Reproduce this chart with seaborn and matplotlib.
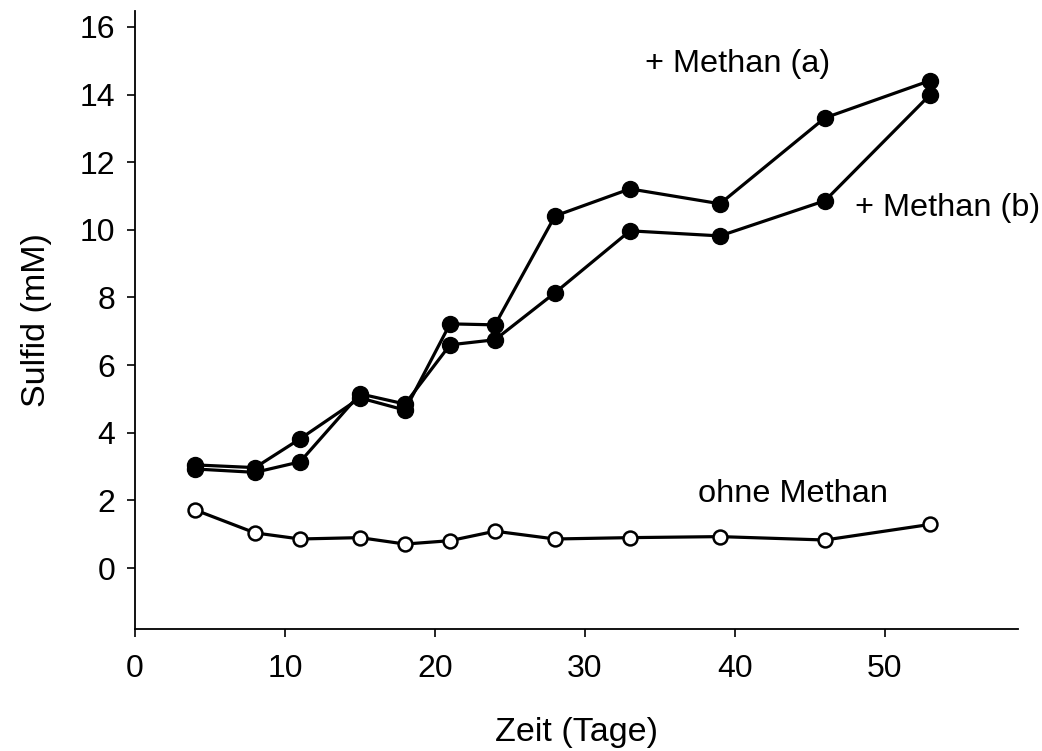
import matplotlib
matplotlib.use("Agg")
import matplotlib.pyplot as plt
import seaborn as sns
import pandas as pd

days = [4, 8, 11, 15, 18, 21, 24, 28, 33, 39, 46, 53]
methan_a = [3.05, 2.97, 3.82, 5.03, 4.67, 7.22, 7.19, 10.41, 11.21, 10.77, 13.31, 14.41]
methan_b = [2.93, 2.83, 3.14, 5.15, 4.85, 6.60, 6.75, 8.14, 9.97, 9.82, 10.86, 13.99]
ohne = [1.72, 1.04, 0.86, 0.90, 0.71, 0.81, 1.09, 0.86, 0.90, 0.93, 0.83, 1.29]

sns.set_theme(style="ticks")
plt.rcParams['font.family'] = ['Liberation Sans', 'DejaVu Sans']
plt.rcParams['text.color'] = 'black'
plt.rcParams['axes.labelcolor'] = 'black'
plt.rcParams['xtick.color'] = 'black'
plt.rcParams['ytick.color'] = 'black'

fig = plt.figure(figsize=(10.42, 7.51), dpi=100)
ax = fig.add_axes([0.1296, 0.1625, 0.977 - 0.1296, 0.9854 - 0.1625])

df_a = pd.DataFrame({"x": days, "y": methan_a})
df_b = pd.DataFrame({"x": days, "y": methan_b})
df_o = pd.DataFrame({"x": days, "y": ohne})

for df in (df_a, df_b):
    sns.lineplot(data=df, x="x", y="y", ax=ax, color="black", lw=2.3,
                 marker="o", markersize=11.5, markerfacecolor="black",
                 markeredgecolor="black", markeredgewidth=1.0)
sns.lineplot(data=df_o, x="x", y="y", ax=ax, color="black", lw=2.3,
             marker="o", markersize=10, markerfacecolor="white",
             markeredgecolor="black", markeredgewidth=1.8)

ax.set_xlim(0, 58.87)
ax.set_ylim(-1.80, 16.47)
ax.set_xticks([0, 10, 20, 30, 40, 50])
ax.set_yticks([0, 2, 4, 6, 8, 10, 12, 14, 16])
ax.tick_params(axis="both", labelsize=23, length=6, width=1.2, pad=8)
ax.tick_params(axis="x", pad=12)
ax.set_xlabel("Zeit (Tage)", fontsize=24.5, labelpad=24)
ax.set_ylabel("Sulfid (mM)", fontsize=24.5, labelpad=20)
for s in ("top", "right"):
    ax.spines[s].set_visible(False)
for s in ("left", "bottom"):
    ax.spines[s].set_linewidth(1.3)
    ax.spines[s].set_color("black")

ax.text(34.0, 14.89, "+ Methan (a)", fontsize=23.4, ha="left", va="center")
ax.text(48.0, 10.65, "+ Methan (b)", fontsize=23.4, ha="left", va="center")
ax.text(37.5, 2.18, "ohne Methan", fontsize=23.4, ha="left", va="center")

fig.savefig("out.png", dpi=100)
